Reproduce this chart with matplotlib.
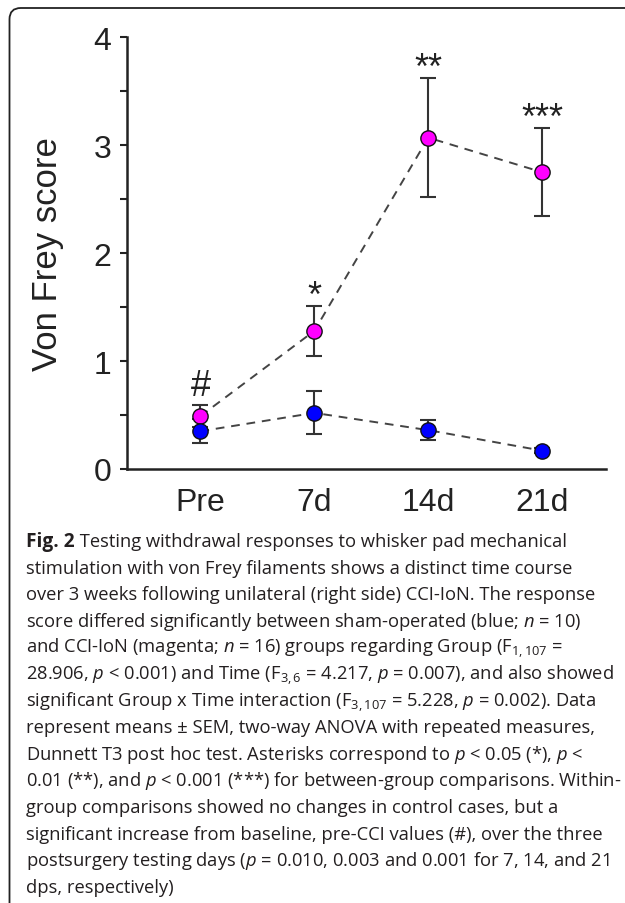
import matplotlib
matplotlib.use("Agg")
import matplotlib.pyplot as plt
from matplotlib.patches import FancyBboxPatch

# data
timepoints = ["Pre", "7d", "14d", "21d"]
cci_mean = [0.49, 1.28, 3.07, 2.75]
cci_sem = [0.10, 0.23, 0.55, 0.41]
sham_mean = [0.35, 0.52, 0.36, 0.17]
sham_sem = [0.11, 0.20, 0.09, 0.02]
marks = ["#", "*", "**", "***"]

caption_head = "Fig. 2"
caption_lines = [
    " Testing withdrawal responses to whisker pad mechanical",
    "stimulation with von Frey filaments shows a distinct time course",
    "over 3 weeks following unilateral (right side) CCI-IoN. The response",
    r"score differed significantly between sham-operated (blue; $n$ = 10)",
    r"and CCI-IoN (magenta; $n$ = 16) groups regarding Group (F$_{1,107}$ =",
    r"28.906, $p$ < 0.001) and Time (F$_{3,6}$ = 4.217, $p$ = 0.007), and also showed",
    r"significant Group x Time interaction (F$_{3,107}$ = 5.228, $p$ = 0.002). Data",
    "represent means ± SEM, two-way ANOVA with repeated measures,",
    r"Dunnett T3 post hoc test. Asterisks correspond to $p$ < 0.05 (*), $p$ <",
    r"0.01 (**), and $p$ < 0.001 (***) for between-group comparisons. Within-",
    "group comparisons showed no changes in control cases, but a",
    "significant increase from baseline, pre-CCI values (#), over the three",
    r"postsurgery testing days ($p$ = 0.010, 0.003 and 0.001 for 7, 14, and 21",
    "dps, respectively)",
]

plt.rcParams['font.family'] = "Liberation Sans"
plt.rcParams['mathtext.fontset'] = "custom"
plt.rcParams['mathtext.rm'] = "Open Sans"
plt.rcParams['mathtext.it'] = "Open Sans:italic"
plt.rcParams['mathtext.bf'] = "Open Sans:bold"

W, H = 625, 904
fig = plt.figure(figsize=(W / 100, H / 100), dpi=100)

# frame around the figure (rounded top-left corner)
frame = FancyBboxPatch((9.5 / W, -0.05), 1.2, 1.05 - 9 / H,
                       boxstyle="round,pad=0,rounding_size=0.018",
                       transform=fig.transFigure, fill=False,
                       edgecolor="#222222", linewidth=1.3, mutation_aspect=W / H)
fig.patches.append(frame)

ax = fig.add_axes([126.7 / W, 1 - 470 / H, (606 - 126.7) / W, (470 - 38.3) / H])
x = list(range(len(timepoints)))

ink = "#222222"
ax.plot(x, cci_mean, linestyle=(0, (4.5, 3.5)), color="#444444", lw=1.4, zorder=2)
ax.plot(x, sham_mean, linestyle=(0, (4.5, 3.5)), color="#444444", lw=1.4, zorder=2)
ax.errorbar(x, cci_mean, yerr=cci_sem, fmt="none", ecolor="#333333",
            elinewidth=1.5, capsize=6, capthick=1.5, zorder=3)
ax.errorbar(x, sham_mean, yerr=sham_sem, fmt="none", ecolor="#333333",
            elinewidth=1.5, capsize=6, capthick=1.5, zorder=3)
ax.plot(x, cci_mean, "o", ms=11, mfc="#FF00FF", mec="#111111", mew=1.0,
        linestyle="none", zorder=4)
ax.plot(x, sham_mean, "o", ms=11, mfc="#0000FF", mec="#111111", mew=1.0,
        linestyle="none", zorder=5)

# significance marks just above the upper error bar
for xi, m, s, lab in zip(x, cci_mean, cci_sem, marks):
    off = 0.10 if lab == "#" else 0.0
    ax.text(xi, m + s + off, lab, ha="center", va="baseline",
            fontsize=26, color=ink)

ax.set_xlim(-0.647, 3.56)
ax.set_ylim(0, 4)
ax.set_xticks(x)
ax.set_xticklabels(timepoints)
ax.set_yticks([0, 1, 2, 3, 4])
ax.set_yticks([0.5, 1.5, 2.5, 3.5], minor=True)
for s in ["top", "right"]:
    ax.spines[s].set_visible(False)
for s in ["left", "bottom"]:
    ax.spines[s].set_linewidth(1.8)
    ax.spines[s].set_color(ink)
ax.tick_params(axis="y", which="both", direction="out", length=5,
               width=1.5, color=ink, labelsize=23, labelcolor=ink, pad=6)
ax.tick_params(axis="x", length=0, labelsize=23, labelcolor=ink, pad=13)
ax.set_ylabel("Von Frey score", fontsize=25, color=ink)
ax.yaxis.set_label_coords(-0.131, 0.5)

# caption
cap_size = 13.2
cap_color = "#231F20"
x0 = 26 / W
head = fig.text(x0, 1 - 547 / H, caption_head, ha="left", va="baseline",
                fontsize=cap_size + 0.6, color=cap_color, family="Open Sans",
                weight="bold")
fig.canvas.draw()
head_w = head.get_window_extent(fig.canvas.get_renderer()).width / W
for i, line in enumerate(caption_lines):
    xs = x0 + head_w if i == 0 else x0
    fig.text(xs, 1 - (547 + i * 26.6) / H, line, ha="left", va="baseline",
             fontsize=cap_size, color=cap_color, family="Open Sans")

fig.savefig("out.png", dpi=100)
